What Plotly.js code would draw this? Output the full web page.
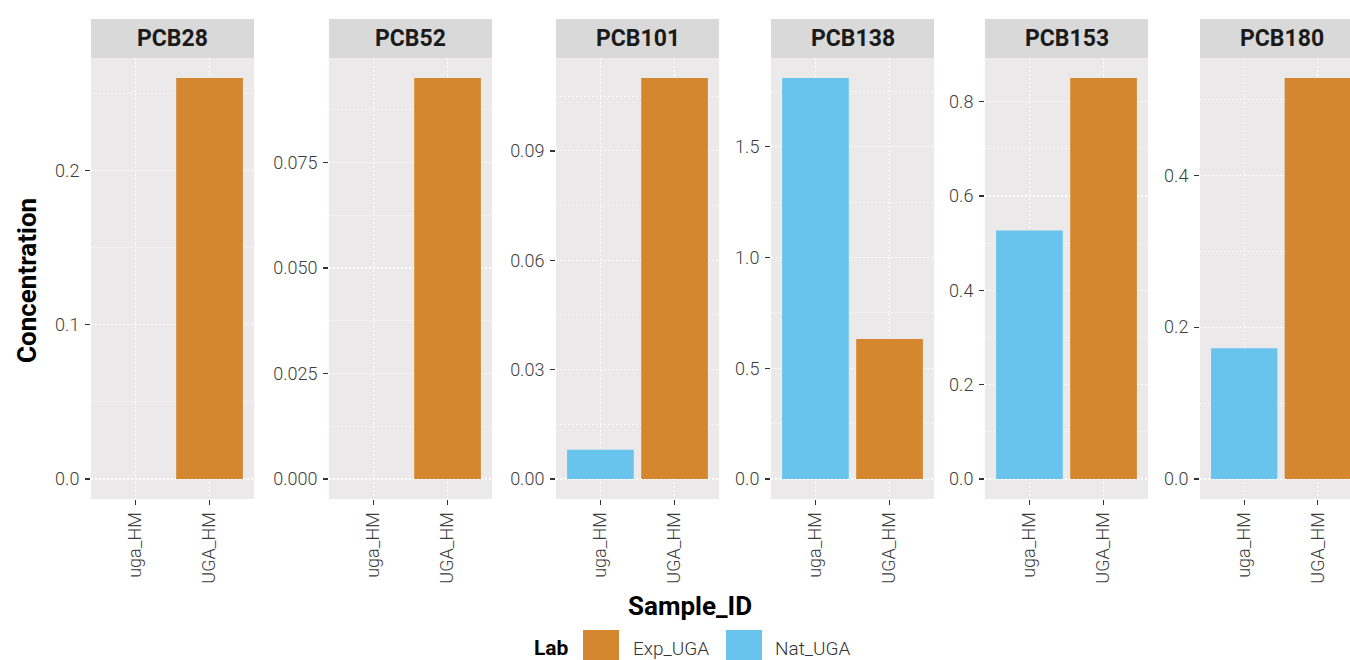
<!DOCTYPE html>
<html>
<head>
<meta charset="utf-8">
<script src="https://cdn.plot.ly/plotly-3.0.1.min.js"></script>
<style>
  html, body { margin: 0; padding: 0; overflow: hidden; background: #ffffff; }
  #chart { width: 1362px; height: 660px; }
</style>
</head>
<body>
<div id="chart"></div>
<script>
// PCB congener concentrations per sample, faceted by congener
const congeners = ['PCB28', 'PCB52', 'PCB101', 'PCB138', 'PCB153', 'PCB180'];
const sampleIds = ['uga_HM', 'UGA_HM'];
const labNames = ['Exp_UGA', 'Nat_UGA'];
const natUGA = [0, 0, 0.008, 1.81, 0.527, 0.172];     // sample uga_HM
const expUGA = [0.26, 0.095, 0.11, 0.632, 0.85, 0.528]; // sample UGA_HM
const majorStep = [0.1, 0.025, 0.03, 0.5, 0.2, 0.2];
const tickFormats = ['.1f', '.3f', '.2f', '.1f', '.1f', '.1f'];

const labColors = { Exp_UGA: '#D4872F', Nat_UGA: '#68C4EC' };

const W = 1362, H = 660;
const fx = p => p / W;
const fy = p => 1 - p / H;

const panelLeft = [91, 329, 556, 771, 985, 1200];
const panelWidth = 163;
const plotTop = 58, plotBottom = 499, stripTop = 19;

const FONT = 'Roboto, "Open Sans", sans-serif';
const TICK_COLOR = '#3D3D3D';
const traces = [];
const layout = {
  width: W, height: H,
  margin: { l: 0, r: 0, t: 0, b: 0 },
  paper_bgcolor: '#ffffff',
  plot_bgcolor: '#EBE9EA',
  showlegend: false,
  barmode: 'overlay',
  font: { family: FONT, color: TICK_COLOR },
  shapes: [],
  annotations: []
};

congeners.forEach((name, i) => {
  const sfx = i === 0 ? '' : String(i + 1);
  const xa = 'x' + sfx, ya = 'y' + sfx;
  const vmax = Math.max(natUGA[i], expUGA[i]);

  traces.push({
    type: 'bar', xaxis: xa, yaxis: ya,
    x: [sampleIds[0]], y: [natUGA[i]], width: 0.9,
    name: labNames[1], marker: { color: labColors.Nat_UGA, line: { width: 0 } },
    hoverinfo: 'skip'
  });
  traces.push({
    type: 'bar', xaxis: xa, yaxis: ya,
    x: [sampleIds[1]], y: [expUGA[i]], width: 0.9,
    name: labNames[0], marker: { color: labColors.Exp_UGA, line: { width: 0 } },
    hoverinfo: 'skip'
  });

  const L = panelLeft[i];
  layout['xaxis' + sfx] = {
    domain: [fx(L), fx(L + panelWidth)],
    anchor: ya,
    type: 'category',
    categoryorder: 'array', categoryarray: sampleIds,
    range: [-0.6, 1.6],
    tickangle: -90,
    ticks: 'outside', ticklen: 5, tickwidth: 1.2, tickcolor: '#333333',
    tickfont: { family: FONT, size: 18, color: TICK_COLOR, weight: 300 },
    showgrid: true, gridcolor: '#ffffff', gridwidth: 1.1, griddash: '2px,2px',
    zeroline: false, showline: false, fixedrange: true
  };
  layout['yaxis' + sfx] = {
    domain: [fy(plotBottom), fy(plotTop)],
    anchor: xa,
    range: [-0.05 * vmax, 1.05 * vmax],
    tick0: 0, dtick: majorStep[i], tickformat: tickFormats[i],
    ticks: 'outside', ticklen: 5, tickwidth: 1.2, tickcolor: '#333333',
    ticklabelstandoff: 2,
    tickfont: { family: FONT, size: 18, color: TICK_COLOR, weight: 300 },
    showgrid: true, gridcolor: '#ffffff', gridwidth: 1.1, griddash: '2px,2px',
    minor: { tick0: 0, dtick: majorStep[i] / 2, showgrid: true, gridcolor: '#ffffff', gridwidth: 0.7, griddash: '2px,2px', ticks: '' },
    zeroline: false, showline: false, fixedrange: true
  };

  // facet strip
  layout.shapes.push({
    type: 'rect', xref: 'paper', yref: 'paper', layer: 'below',
    x0: fx(L), x1: fx(L + panelWidth), y0: fy(plotTop), y1: fy(stripTop),
    fillcolor: '#D9D9D9', line: { width: 0 }
  });
  layout.annotations.push({
    xref: 'paper', yref: 'paper', x: fx(L + panelWidth / 2), y: fy((stripTop + plotTop) / 2),
    text: name, showarrow: false, xanchor: 'center', yanchor: 'middle',
    font: { family: FONT, size: 23, color: '#1A1A1A', weight: 700 }
  });
});

// axis titles
layout.annotations.push({
  xref: 'paper', yref: 'paper', x: fx(27), y: fy(281), textangle: -90,
  text: 'Concentration', showarrow: false, xanchor: 'center', yanchor: 'middle',
  font: { family: FONT, size: 26, color: '#000000', weight: 700 }
});
layout.annotations.push({
  xref: 'paper', yref: 'paper', x: fx(690), y: fy(606),
  text: 'Sample_ID', showarrow: false, xanchor: 'center', yanchor: 'middle',
  font: { family: FONT, size: 26, color: '#000000', weight: 700 }
});

// legend: title, keys and labels
layout.annotations.push({
  xref: 'paper', yref: 'paper', x: fx(532), y: fy(648),
  text: 'Lab', showarrow: false, xanchor: 'left', yanchor: 'middle',
  font: { family: FONT, size: 21, color: '#000000', weight: 700 }
});
const keyLeft = [583, 726];
const labelLeft = [631, 773];
labNames.forEach((lab, k) => {
  layout.shapes.push({
    type: 'rect', xref: 'paper', yref: 'paper',
    x0: fx(keyLeft[k]), x1: fx(keyLeft[k] + 36), y0: fy(666), y1: fy(630),
    fillcolor: labColors[lab], line: { width: 0 }
  });
  layout.annotations.push({
    xref: 'paper', yref: 'paper', x: fx(labelLeft[k]), y: fy(648),
    text: lab, showarrow: false, xanchor: 'left', yanchor: 'middle',
    font: { family: FONT, size: 19, color: '#333333', weight: 300 }
  });
});

Plotly.newPlot('chart', traces, layout, { staticPlot: true, displayModeBar: false });
</script>
</body>
</html>
